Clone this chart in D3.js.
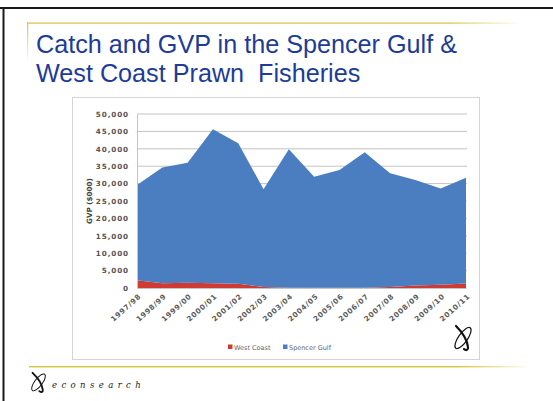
<!DOCTYPE html>
<html>
<head>
<meta charset="utf-8">
<script src="https://cdn.jsdelivr.net/npm/d3@7"></script>
<style>
  html, body { margin: 0; padding: 0; background: #fff; }
  svg { display: block; }
</style>
</head>
<body>
<svg id="slide" width="553" height="401"></svg>
<script>
// Seasons and gross value of production ($000) per fishery
const seasons = ["1997/98","1998/99","1999/00","2000/01","2001/02","2002/03","2003/04",
                 "2004/05","2005/06","2006/07","2007/08","2008/09","2009/10","2010/11"];
const westCoast    = [2200, 1400, 1500, 1400, 1200, 300, 100, 100, 100, 100, 300, 700, 900, 1300];
const spencerGulf  = [27400, 33200, 34500, 44200, 40400, 28100, 39800, 31900, 33800, 38900, 32700, 30300, 27700, 30400];
const yTicks = [0, 5000, 10000, 15000, 20000, 25000, 30000, 35000, 40000, 45000, 50000];
const seriesNames = ["West Coast", "Spencer Gulf"];
const seriesColors = ["#d03a33", "#4a7ec0"];

const svg = d3.select("#slide");

// Slide frame
svg.append("line").attr("x1", 0).attr("x2", 553).attr("y1", 8).attr("y2", 8)
  .attr("stroke", "#1a1a1a").attr("stroke-width", 2);
svg.append("line").attr("x1", 3.5).attr("x2", 3.5).attr("y1", 8).attr("y2", 401)
  .attr("stroke", "#1a1a1a").attr("stroke-width", 2);

// Gold rules
const defs = svg.append("defs");
const gTop = defs.append("linearGradient").attr("id", "goldTop");
gTop.append("stop").attr("offset", "0%").attr("stop-color", "#d8c23a");
gTop.append("stop").attr("offset", "85%").attr("stop-color", "#d8c23a");
gTop.append("stop").attr("offset", "100%").attr("stop-color", "#d8c23a").attr("stop-opacity", 0);
const gLeft = defs.append("linearGradient").attr("id", "goldLeft")
  .attr("x1", 0).attr("y1", 0).attr("x2", 0).attr("y2", 1);
gLeft.append("stop").attr("offset", "0%").attr("stop-color", "#d8c23a");
gLeft.append("stop").attr("offset", "100%").attr("stop-color", "#d8c23a").attr("stop-opacity", 0);

svg.append("rect").attr("x", 27).attr("y", 22.5).attr("width", 496).attr("height", 1.2)
  .attr("fill", "url(#goldTop)");
svg.append("rect").attr("x", 27).attr("y", 22.5).attr("width", 1.2).attr("height", 40)
  .attr("fill", "url(#goldLeft)");
svg.append("rect").attr("x", 29).attr("y", 366).attr("width", 503).attr("height", 1.4)
  .attr("fill", "url(#goldTop)");

// Title
const title = svg.append("text")
  .attr("font-family", "Liberation Sans, Arial, sans-serif")
  .attr("font-size", 25.2).attr("fill", "#1c3c98");
title.append("tspan").attr("x", 36).attr("y", 53).text("Catch and GVP in the Spencer Gulf &");
title.append("tspan").attr("x", 36).attr("y", 82).text("West Coast Prawn\u00a0 Fisheries");

// Chart panel
svg.append("rect").attr("x", 72.5).attr("y", 97.5).attr("width", 407).attr("height", 262)
  .attr("fill", "#fff").attr("stroke", "#d4d4d4");

const margin = { left: 137, right: 466, top: 114, bottom: 288 };
const x = d3.scalePoint().domain(seasons).range([margin.left, margin.right]);
const y = d3.scaleLinear().domain([0, 50000]).range([margin.bottom, margin.top]);

// Gridlines
svg.append("g").selectAll("line").data(yTicks.filter(d => d > 0)).join("line")
  .attr("x1", margin.left).attr("x2", margin.right + 1)
  .attr("y1", d => y(d)).attr("y2", d => y(d))
  .attr("stroke", "#c4c4c4").attr("stroke-width", 1);

// Stacked areas
const rows = seasons.map((s, i) => ({ season: s, "West Coast": westCoast[i], "Spencer Gulf": spencerGulf[i] }));
const stack = d3.stack().keys(seriesNames)(rows);
const area = d3.area()
  .x(d => x(d.data.season))
  .y0(d => y(d[0]))
  .y1(d => y(d[1]));
svg.append("g").selectAll("path").data(stack).join("path")
  .attr("d", area)
  .attr("fill", (d, i) => seriesColors[i]);

// Y axis
const yAxis = svg.append("g").attr("transform", `translate(${margin.left},0)`)
  .call(d3.axisLeft(y).tickValues(yTicks).tickSize(0).tickPadding(8).tickFormat(d3.format(",")));
yAxis.select(".domain").attr("stroke", "#c4c4c4");
yAxis.selectAll("text")
  .attr("font-family", "DejaVu Sans, sans-serif").attr("font-size", 7.2)
  .attr("font-weight", "bold").attr("letter-spacing", 0.9).attr("fill", "#555");

// X axis
const xAxis = svg.append("g").attr("transform", `translate(0,${margin.bottom})`)
  .call(d3.axisBottom(x).tickSize(0).tickPadding(0));
xAxis.select(".domain").attr("stroke", "#c4c4c4");
xAxis.selectAll("text")
  .attr("font-family", "DejaVu Sans, sans-serif").attr("font-size", 7.2)
  .attr("font-weight", "bold").attr("letter-spacing", 0.7).attr("fill", "#5a5a5a")
  .attr("text-anchor", "end").attr("dy", 0)
  .attr("transform", "translate(4,9) rotate(-42)");

// Y axis title
svg.append("text").attr("transform", `translate(92,${(margin.top + margin.bottom) / 2}) rotate(-90)`)
  .attr("text-anchor", "middle")
  .attr("font-family", "DejaVu Sans, sans-serif").attr("font-size", 7.2)
  .attr("font-weight", "bold").attr("fill", "#444")
  .text("GVP ($000)");

// Legend
const legend = svg.append("g").attr("font-family", "DejaVu Sans, sans-serif")
  .attr("font-size", 6.5).attr("fill", "#666");
const legendX = [228, 283];
seriesNames.forEach((name, i) => {
  legend.append("rect").attr("x", legendX[i]).attr("y", 344.5).attr("width", 4.5).attr("height", 4.5)
    .attr("fill", seriesColors[i]);
  legend.append("text").attr("x", legendX[i] + 6).attr("y", 349.5).text(name);
});

// Swirl logo mark: a tilted loop crossed by a sweeping stroke
function logo(g) {
  g.append("ellipse").attr("cx", 10).attr("cy", 13).attr("rx", 4.5).attr("ry", 12.5)
    .attr("transform", "rotate(35,10,13)")
    .attr("fill", "none").attr("stroke", "#111").attr("stroke-width", 1.2);
  g.append("path")
    .attr("d", "M3,1 C8,6 14,14 15,22 C15.5,25 13,26 11,24")
    .attr("fill", "none").attr("stroke", "#111").attr("stroke-width", 2.2)
    .attr("stroke-linecap", "round");
}
logo(svg.append("g").attr("transform", "translate(453,325)"));
logo(svg.append("g").attr("transform", "translate(30,372) scale(0.85,0.8)"));

// Company name
svg.append("text").attr("x", 52).attr("y", 388)
  .attr("font-family", "DejaVu Serif, serif").attr("font-style", "italic")
  .attr("font-size", 8.5).attr("letter-spacing", 4.4).attr("fill", "#222")
  .text("econsearch");
</script>
</body>
</html>
